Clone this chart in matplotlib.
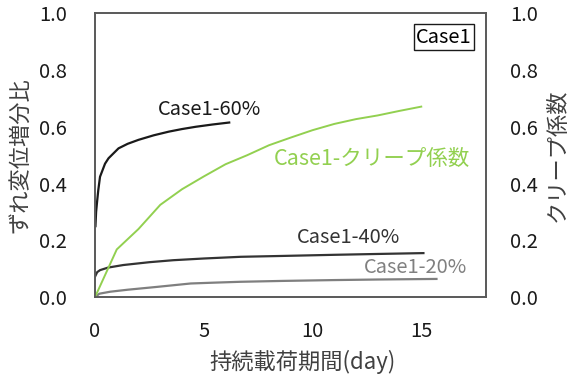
import matplotlib
matplotlib.use('Agg')
import matplotlib.pyplot as plt

plt.rcParams['font.family'] = ['Noto Sans CJK JP', 'DejaVu Sans']

# ずれ変位増分比 (measured)
days_60 = [0.02, 0.05, 0.1, 0.15, 0.23, 0.46, 0.62, 1.08, 1.5, 2.0, 2.7, 3.4, 4.0, 4.63, 5.4, 6.17]
ratio_60 = [0.25, 0.30, 0.34, 0.377, 0.424, 0.47, 0.489, 0.524, 0.54, 0.554, 0.57, 0.583, 0.592, 0.60, 0.608, 0.615]

days_40 = [0, 0.1, 0.23, 0.6, 1.3, 2.5, 3.6, 5.0, 6.7, 8.6, 11, 13, 15.1]
ratio_40 = [0.072, 0.088, 0.095, 0.104, 0.113, 0.123, 0.13, 0.136, 0.142, 0.145, 0.149, 0.152, 0.155]

days_20 = [0, 0.2, 0.7, 1.5, 2.85, 4.4, 5.5, 6.7, 8.6, 11, 13, 15.7]
ratio_20 = [0, 0.012, 0.019, 0.026, 0.036, 0.048, 0.051, 0.054, 0.057, 0.06, 0.062, 0.064]

# クリープ係数 (daily values)
days_creep = [0, 1, 2, 3, 4, 5, 6, 7, 8, 9, 10, 11, 12, 13, 14, 15]
creep = [0, 0.168, 0.24, 0.325, 0.38, 0.425, 0.468, 0.50, 0.535, 0.562, 0.588, 0.61, 0.627, 0.64, 0.656, 0.671]

y_ticks = [0.0, 0.2, 0.4, 0.6, 0.8, 1.0]
x_ticks = [0, 5, 10, 15]

GREEN = '#92D050'
FRAME = '#595959'

fig = plt.figure(figsize=(5.69, 3.78), dpi=100)
ax = fig.add_axes([0.167, 0.214, 0.688, 0.751])

ax.plot(days_60, ratio_60, color='#1a1a1a', lw=1.6)
ax.plot(days_40, ratio_40, color='#333333', lw=1.6)
ax.plot(days_20, ratio_20, color='#7f7f7f', lw=1.6)

ax2 = ax.twinx()
ax2.plot(days_creep, creep, color=GREEN, lw=1.4)

for a in (ax, ax2):
    a.set_xlim(0, 18)
    a.set_ylim(0, 1)
    a.set_yticks(y_ticks)
    a.set_yticklabels([f'{v:.1f}' for v in y_ticks])
    a.tick_params(length=0, labelsize=14.5, colors='#1a1a1a')
    for s in a.spines.values():
        s.set_color(FRAME)
        s.set_linewidth(1.2)

ax.set_xticks(x_ticks)
ax.set_xticklabels([str(v) for v in x_ticks])
ax.tick_params(axis='x', pad=17)
ax.tick_params(axis='y', pad=20)
ax2.tick_params(axis='y', pad=17)

ax.set_xlabel('持続載荷期間(day)', fontsize=16, color='#404040')
ax.xaxis.set_label_coords(0.53, -0.185)
ax.set_ylabel('ずれ変位増分比', fontsize=16, color='#404040')
ax.yaxis.set_label_coords(-0.163, 0.5)
ax2.set_ylabel('クリープ係数', fontsize=16, color='#404040', rotation=90)
ax2.yaxis.set_label_coords(1.151, 0.5)

ax.text(2.9, 0.66, 'Case1-60%', fontsize=14.5, color='#1a1a1a', va='center')
ax.text(8.2, 0.485, 'Case1-クリープ係数', fontsize=15.5, color=GREEN, va='center')
ax.text(9.3, 0.21, 'Case1-40%', fontsize=14.5, color='#333333', va='center')
ax.text(12.35, 0.105, 'Case1-20%', fontsize=14.5, color='#808080', va='center')
ax.text(0.962, 0.915, 'Case1', transform=ax.transAxes, fontsize=14.5, ha='right', va='center',
        bbox=dict(boxstyle='square,pad=0.12', fc='white', ec='#1a1a1a', lw=1))

fig.savefig('out.png', dpi=100)
